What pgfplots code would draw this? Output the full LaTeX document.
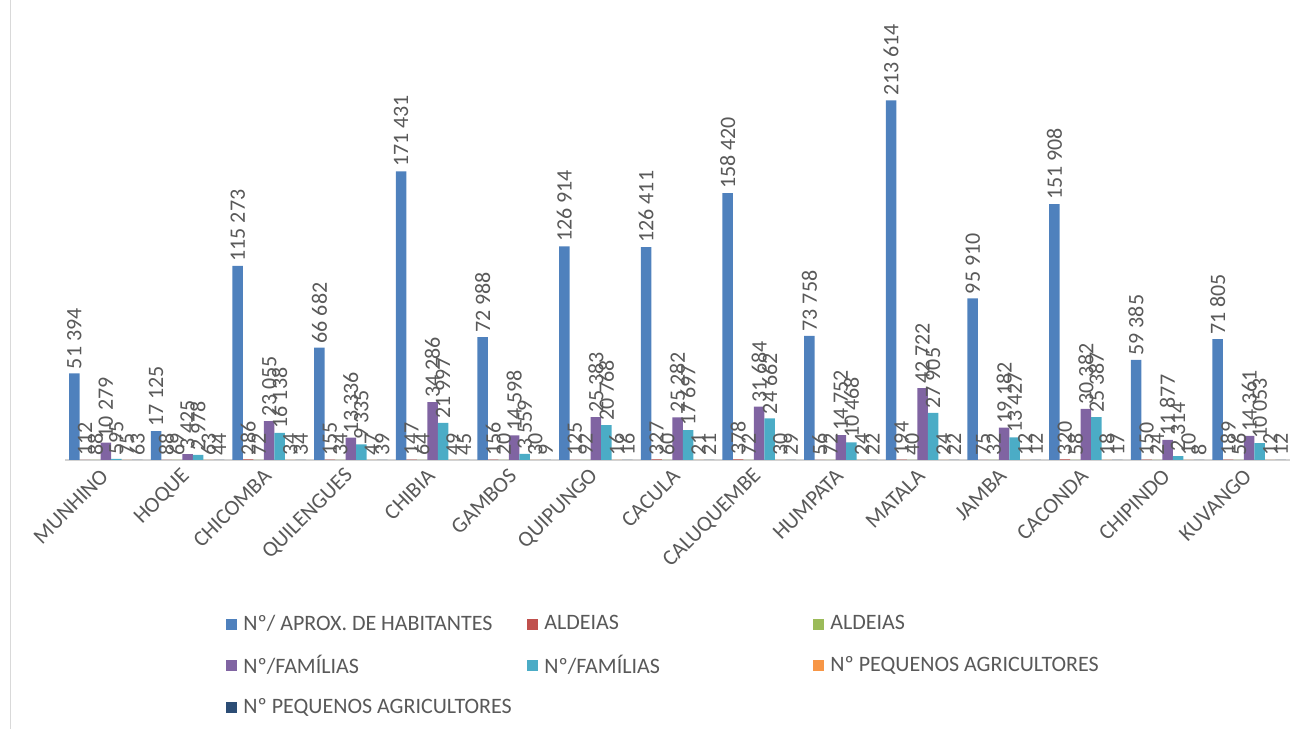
\documentclass[border=0pt]{standalone}
\usepackage{pgfplots}
\pgfplotsset{compat=1.18}
\usepackage{pgfplotstable}
\usepackage{fontspec}
\setmainfont{Carlito}
\definecolor{c1}{HTML}{4F81BD}
\definecolor{c2}{HTML}{C0504D}
\definecolor{c3}{HTML}{9BBB59}
\definecolor{c4}{HTML}{8064A2}
\definecolor{c5}{HTML}{4BACC6}
\definecolor{c6}{HTML}{F79646}
\definecolor{c7}{HTML}{2C4D75}
\definecolor{txt}{HTML}{595959}

\pgfplotstableread{
x hab ald1 ald2 fam1 fam2 pa1 pa2
0 51394 112 88 10279 595 75 63
1 17125 88 69 3425 2978 63 44
2 115273 286 72 23055 16138 34 34
3 66682 155 34 13336 9335 47 39
4 171431 147 64 34286 21997 49 45
5 72988 156 20 14598 3559 30 9
6 126914 125 92 25383 20768 16 16
7 126411 327 60 25282 17697 21 21
8 158420 378 72 31684 24662 30 29
9 73758 56 72 14752 10468 24 22
10 213614 194 40 42722 27905 24 22
11 95910 75 32 19182 13427 12 12
12 151908 320 58 30382 25387 18 17
13 59385 150 24 11877 2314 10 8
14 71805 189 56 14361 10053 12 12
}\data

\newcommand{\lbl}[1]{\makebox[140pt][l]{#1}}
\newcommand{\lblb}[1]{\makebox[132.5pt][l]{#1}}

\begin{document}
\begin{tikzpicture}
\begin{axis}[
  name=ax,
  scale only axis, width=612.5pt, height=210.5pt,
  ybar=0pt, bar width=5.25pt,
  xmin=-0.5, xmax=14.5, ymin=0, ymax=250000,
  clip=false,
  axis x line*=bottom, axis y line=none,
  x axis line style={draw=gray!35, line width=0.6pt, -},
  xtick=data,
  xticklabels={MUNHINO,HOQUE,CHICOMBA,QUILENGUES,CHIBIA,GAMBOS,QUIPUNGO,CACULA,CALUQUEMBE,HUMPATA,MATALA,JAMBA,CACONDA,CHIPINDO,KUVANGO},
  major tick length=0pt,
  x tick label style={rotate=45, anchor=east, xshift=-1.5pt, yshift=-4pt, font=\fontsize{11}{13}\selectfont, text=txt},
  nodes near coords,
  nodes near coords style={rotate=90, anchor=west, font=\fontsize{11}{13}\selectfont, text=txt, inner sep=2pt},
  /pgf/number format/fixed,
  /pgf/number format/precision=0,
  /pgf/number format/1000 sep={\ },
  /pgf/number format/assume math mode=true,
  legend columns=3,
  legend cell align=left,
  legend image code/.code={\draw[#1,draw=none] (0pt,-2.75pt) rectangle (5.5pt,2.75pt);},
  legend style={draw=none, at={(0.1265,-0.348)}, anchor=north west,
    font=\fontsize{11}{13}\selectfont, text=txt, row sep=7pt,
    /tikz/every odd column/.append style={column sep=1pt}},
]
\addplot[fill=c1, draw=none] table[x=x,y=hab]{\data};
\addlegendentry{\lbl{Nº/ APROX. DE HABITANTES}}
\addplot[fill=c2, draw=none] table[x=x,y=ald1]{\data};
\addlegendentry{\lblb{ALDEIAS}}
\addplot[fill=c3, draw=none] table[x=x,y=ald2]{\data};
\addlegendentry{\lbl{ALDEIAS}}
\addplot[fill=c4, draw=none] table[x=x,y=fam1]{\data};
\addlegendentry{\lbl{Nº/FAMÍLIAS}}
\addplot[fill=c5, draw=none] table[x=x,y=fam2]{\data};
\addlegendentry{\lblb{Nº/FAMÍLIAS}}
\addplot[fill=c6, draw=none] table[x=x,y=pa1]{\data};
\addlegendentry{\lbl{Nº PEQUENOS AGRICULTORES}}
\addplot[fill=c7, draw=none] table[x=x,y=pa2]{\data};
\addlegendentry{\lbl{Nº PEQUENOS AGRICULTORES}}
\coordinate (bl) at (rel axis cs:-0.0531,-0.639);
\coordinate (tr) at (rel axis cs:1.01306,1.0926);
\draw[gray!30, line width=0.5pt] (rel axis cs:-0.0449,-0.639) -- (rel axis cs:-0.0449,1.0926);
\end{axis}
\pgfresetboundingbox
\path (bl) rectangle (tr);
\end{tikzpicture}
\end{document}
